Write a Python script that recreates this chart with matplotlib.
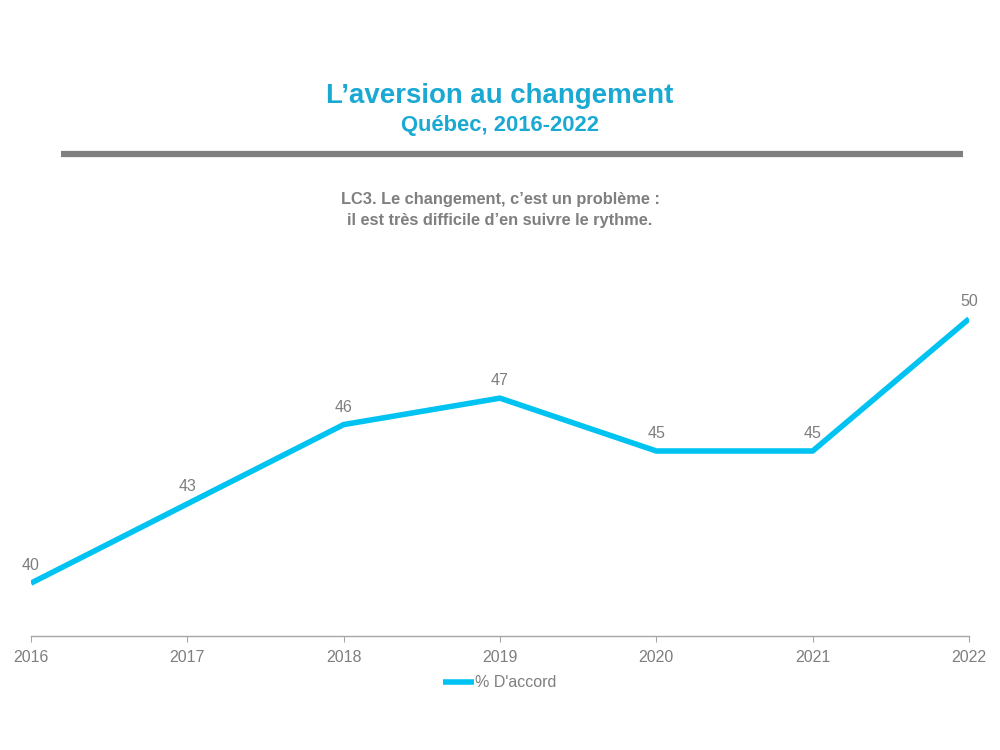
import matplotlib
matplotlib.use('Agg')
import matplotlib.pyplot as plt
from matplotlib.lines import Line2D

# data
years = [2016, 2017, 2018, 2019, 2020, 2021, 2022]
accord = [40, 43, 46, 47, 45, 45, 50]
series_name = "% D'accord"

title = "L\u2019aversion au changement"
subtitle = "Québec, 2016-2022"
question = "LC3. Le changement, c\u2019est un problème :\nil est très difficile d\u2019en suivre le rythme."

blue_title = '#1AA9D3'
line_color = '#00C3F2'
grey = '#7F7F7F'

plt.rcParams['font.family'] = ['Liberation Sans', 'DejaVu Sans']

fig = plt.figure(figsize=(10, 7.5), dpi=100)

# header
fig.text(0.5, 1 - 96 / 750, title, ha='center', va='center', fontsize=19.9,
         fontweight='bold', color=blue_title)
fig.text(0.5, 1 - 125 / 750, subtitle, ha='center', va='center', fontsize=15.8,
         fontweight='bold', color=blue_title)
fig.add_artist(Line2D([61 / 1000, 963 / 1000], [1 - 154 / 750, 1 - 154 / 750],
                      color=grey, linewidth=4.5, solid_capstyle='butt',
                      transform=fig.transFigure))
fig.text(0.5, 1 - 210 / 750, question, ha='center', va='center', fontsize=11.8,
         fontweight='bold', color=grey, linespacing=1.45)

ax = fig.add_axes([31 / 1000, 114 / 750, 938 / 1000, (636 - 266) / 750])
ax.plot(years, accord, color=line_color, linewidth=4, solid_capstyle='butt',
        label=series_name)
for x, y in zip(years, accord):
    ax.annotate(str(y), (x, y), xytext=(0, 7), textcoords='offset points',
                ha='center', va='bottom', fontsize=11.5, color=grey)

ax.set_xlim(2016, 2022)
ax.set_ylim(38, 52)
ax.set_xticks(years)
ax.set_xticklabels([str(y) for y in years], fontsize=11.5, color=grey)
ax.set_yticks([])
for s in ['top', 'right', 'left']:
    ax.spines[s].set_visible(False)
ax.spines['bottom'].set_color('#A6A6A6')
ax.spines['bottom'].set_linewidth(1)
ax.tick_params(axis='x', length=4, color='#A6A6A6', pad=6)

leg = ax.legend(loc='center', bbox_to_anchor=(0.5, -0.127), frameon=False,
                handlelength=1.9, handletextpad=0.1,
                prop={'size': 11.5})
for t in leg.get_texts():
    t.set_color(grey)

fig.savefig('out.png', dpi=100)
